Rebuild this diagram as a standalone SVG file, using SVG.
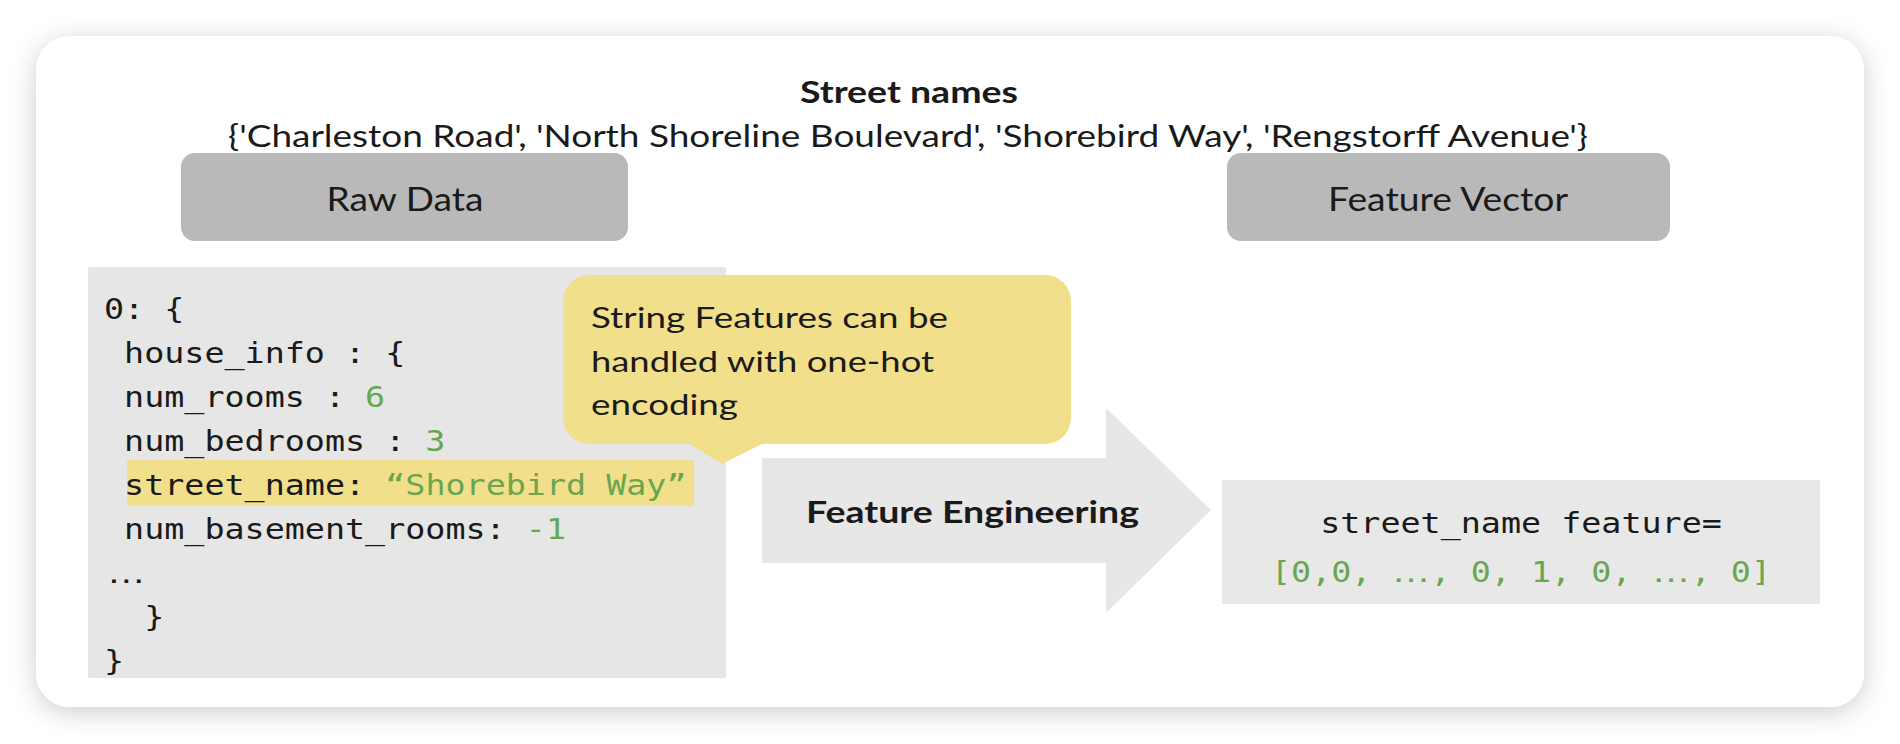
<svg xmlns="http://www.w3.org/2000/svg" width="1900" height="744" viewBox="0 0 1900 744">
  <defs>
    <filter id="cardShadow" x="-5%" y="-10%" width="110%" height="125%">
      <feDropShadow dx="0" dy="5" stdDeviation="13" flood-color="#000" flood-opacity="0.2"/>
    </filter>
    <style>
      .sans { font-family: Lato, "Noto Sans", "Liberation Sans", sans-serif; fill: #1a1a1a; }
      .bold { font-weight: 700; }
      .mono { font-family: "DejaVu Sans Mono", "Liberation Mono", monospace; font-size: 29px; fill: #1a1a1a; }
      .g { fill: #69a64f; }
      .ell { font-family: "Liberation Sans", Arial, sans-serif; font-size: 34px; }
      .label-box { fill: #b9b9b9; }
      .panel { fill: #e6e6e6; }
      .yellow { fill: #f2df8b; }
    </style>
  </defs>

  <rect x="0" y="0" width="1900" height="744" fill="#ffffff"/>
  <rect id="card" x="36" y="36" width="1828" height="671" rx="34" fill="#ffffff" filter="url(#cardShadow)"/>

  <g id="title">
    <text class="sans bold" x="909" y="103" font-size="30" text-anchor="middle" textLength="218" lengthAdjust="spacingAndGlyphs">Street names</text>
    <text class="sans" x="908" y="147" font-size="30.5" text-anchor="middle" textLength="1360" lengthAdjust="spacingAndGlyphs">{'Charleston Road', 'North Shoreline Boulevard', 'Shorebird Way', 'Rengstorff Avenue'}</text>
  </g>

  <g id="raw-data-label">
    <rect class="label-box" x="181" y="153" width="447" height="88" rx="14"/>
    <text class="sans" x="405" y="211" font-size="33" text-anchor="middle" textLength="157" lengthAdjust="spacingAndGlyphs">Raw Data</text>
  </g>

  <g id="feature-vector-label">
    <rect class="label-box" x="1227" y="153" width="443" height="88" rx="14"/>
    <text class="sans" x="1448" y="211" font-size="33" text-anchor="middle" textLength="240" lengthAdjust="spacingAndGlyphs">Feature Vector</text>
  </g>

  <g id="raw-data">
    <rect class="panel" x="88" y="267" width="638" height="411" rx="2"/>
    <rect class="yellow" x="127" y="460" width="567" height="46"/>
    <g transform="translate(104,0) scale(1.151,1)">
      <text class="mono" x="0" y="319">0: {</text>
      <text class="mono" x="17.458" y="363">house_info : {</text>
      <text class="mono" x="17.458" y="407">num_rooms : <tspan class="g">6</tspan></text>
      <text class="mono" x="17.458" y="451">num_bedrooms : <tspan class="g">3</tspan></text>
      <text class="mono" x="17.458" y="495">street_name: <tspan class="g">“Shorebird Way”</tspan></text>
      <text class="mono" x="17.458" y="539">num_basement_rooms: <tspan class="g">-1</tspan></text>
      <text class="mono ell" x="2.5" y="583">…</text>
      <text class="mono" x="34.916" y="627">}</text>
      <text class="mono" x="0" y="671">}</text>
    </g>
  </g>

  <g id="callout">
    <rect class="yellow" x="563" y="275" width="508" height="169" rx="26"/>
    <polygon class="yellow" points="688,443 722,464 764,443"/>
    <text class="sans" x="591" y="328" font-size="29" textLength="357" lengthAdjust="spacingAndGlyphs">String Features can be</text>
    <text class="sans" x="591" y="372" font-size="29" textLength="343" lengthAdjust="spacingAndGlyphs">handled with one-hot</text>
    <text class="sans" x="591" y="415" font-size="29" textLength="147" lengthAdjust="spacingAndGlyphs">encoding</text>
  </g>

  <g id="connectors">
    <path d="M762,458 H1106 V408 L1211,510 L1106,613 V563 H762 Z" fill="#e7e7e7"/>
    <text class="sans bold" x="806" y="523" font-size="30" textLength="333" lengthAdjust="spacingAndGlyphs">Feature Engineering</text>
  </g>

  <g id="feature-vector">
    <rect x="1222" y="480" width="598" height="124" fill="#e8e8e8"/>
    <g transform="translate(1521,0) scale(1.151,1)">
      <text class="mono" x="0" y="533" text-anchor="middle">street_name feature=</text>
      <text class="mono g" x="0" y="582" text-anchor="middle">[0,0, <tspan class="ell">…</tspan>, 0, 1, 0, <tspan class="ell">…</tspan>, 0]</text>
    </g>
  </g>
</svg>
